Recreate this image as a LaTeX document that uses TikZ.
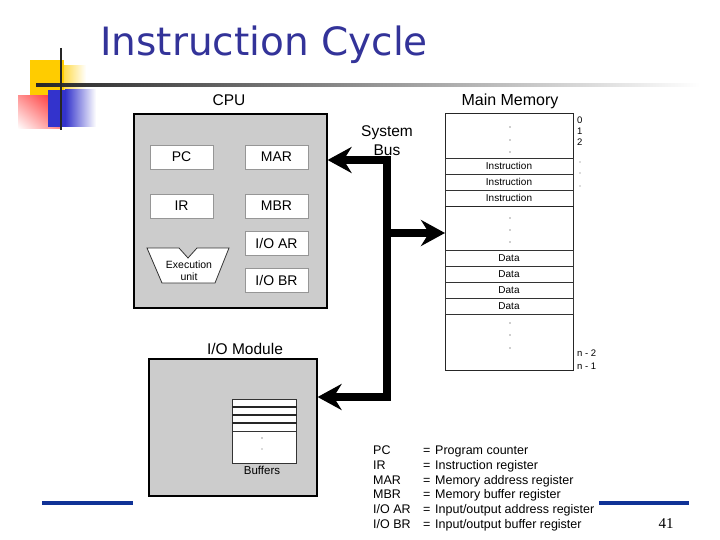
\documentclass[tikz,border=0pt]{standalone}
\usepackage{fontspec}
\setmainfont{Liberation Sans}
\newfontfamily\titlefont{DejaVu Sans}
\newfontfamily\numfont{Liberation Serif}
\usetikzlibrary{arrows.meta, shadings}
\definecolor{titleblue}{RGB}{51,51,153}
\definecolor{lineblue}{RGB}{16,50,150}
\definecolor{boxgray}{RGB}{204,204,204}
\definecolor{regborder}{RGB}{150,150,150}
\definecolor{logoyellow}{RGB}{255,204,0}
\definecolor{logoblue}{RGB}{51,51,204}
\definecolor{logored}{RGB}{255,40,40}
\tikzset{
  unitbox/.style={draw=black, line width=1.6pt, fill=boxgray, inner sep=0pt},
  regbox/.style={draw=regborder, fill=white, line width=0.8pt, minimum width=63pt, minimum height=24pt, inner sep=0pt, font=\fontsize{14}{14}\selectfont},
  memcell/.style={draw=black!80, fill=white, line width=0.8pt, minimum width=128pt, minimum height=16pt, inner sep=0pt, font=\fontsize{10}{10}\selectfont},
  addrlbl/.style={anchor=base west, inner sep=0pt, font=\fontsize{9.5}{9.5}\selectfont},
  heading/.style={anchor=base, inner sep=0pt, font=\fontsize{15.5}{15.5}\selectfont},
  smalllbl/.style={anchor=base, inner sep=0pt, font=\fontsize{10.5}{10.5}\selectfont},
  legend/.style={anchor=base west, inner sep=0pt, font=\fontsize{12.5}{12.5}\selectfont},
  bus/.style={line width=7.5pt, line join=miter},
  bustip/.tip={Stealth[length=24pt, width=26pt, inset=8pt]},
}
\begin{document}
\begin{tikzpicture}[x=1pt, y=-1pt]
    \useasboundingbox (0,0) rectangle (720,540);

    % Logo and title rule
    \fill[logoyellow] (30,60) rectangle (64,97);
    \shade[left color=logoyellow!70, right color=white] (64,66) rectangle (86,97);
    \shade[upper right=logored, upper left=logored!50, lower left=white, lower right=logored!55] (18,96) rectangle (60,129);
    \fill[logoblue] (48,90) rectangle (65,127);
    \shade[left color=logoblue, right color=white] (65,90) rectangle (96,127);
    \shade[left color=black!85, right color=white] (36,84) rectangle (700,87);
    \draw[line width=2.2pt, black!85] (61,48) -- (61,130);

    % Title
    \node[anchor=base west, inner sep=0pt, text=titleblue, font=\titlefont\fontsize{39}{39}\selectfont] (title) at (100,56) {Instruction Cycle};

    % CPU
    \node[unitbox, minimum width=193pt, minimum height=194pt, anchor=north west] (cpu) at (133,113) {};
    \node[heading] (cpulbl) at (229,106) {CPU};
    \node[regbox] (pc) at (181.5,157) {PC};
    \node[regbox] (mar) at (276.5,157) {MAR};
    \node[regbox] (ir) at (181.5,206) {IR};
    \node[regbox] (mbr) at (276.5,206) {MBR};
    \node[regbox] (ioar) at (276.5,243) {I/O AR};
    \node[regbox] (iobr) at (276.5,280.5) {I/O BR};
    \draw[draw=black!80, fill=white, line width=0.8pt] (147,248) -- (179,248) -- (188,258) -- (197,248) -- (229,248) -- (215,283) -- (162,283) -- cycle;
    \node[smalllbl] (exec1) at (189,268) {Execution};
    \node[smalllbl] (exec2) at (189,280) {unit};

    % Main memory
    \node[heading, font=\fontsize{16}{16}\selectfont] (memlbl) at (510,106) {Main Memory};
    \node[draw=black!85, fill=white, line width=1pt, minimum width=128pt, minimum height=257pt, inner sep=0pt, anchor=north west] (mem) at (445,113) {};
    \foreach \y/\t in {166/Instruction, 182/Instruction, 198/Instruction, 258/Data, 274/Data, 290/Data, 306/Data} {
        \node[memcell] (cell\y) at (509,\y) {\t};
    }
    \draw[line width=1.6pt, black!85] (mem.west |- cell198.south) -- (mem.east |- cell198.south);
    \foreach \y in {127, 140, 152, 218, 230, 242, 323, 335, 348} {
        \fill[black!80] (510,\y) circle (0.7);
    }
    \foreach \y in {162, 173, 186} {
        \fill[black!60] (580,\y) circle (0.6);
    }
    \foreach \y/\a in {124/0, 135/1, 146/2, 356/n - 2, 369/n - 1} {
        \node[addrlbl] (addr\y) at (577,\y) {\a};
    }

    % System bus
    \node[heading] (buslbl1) at (387,137) {System};
    \node[heading] (buslbl2) at (387,156) {Bus};
    \coordinate (bustop) at (387,160);
    \coordinate (busmid) at (387,233);
    \coordinate (busbot) at (387,397);

    % I/O module
    \node[unitbox, minimum width=168pt, minimum height=137pt, anchor=north west] (io) at (148,358) {};
    \node[heading] (iolbl) at (245,354) {I/O Module};
    \node[draw=black!80, fill=white, line width=0.8pt, minimum width=64pt, minimum height=64pt, inner sep=0pt, anchor=north west] (buf) at (232,399) {};
    \foreach \y in {407, 415, 423} {
        \draw[line width=1.8pt, black!85] (buf.west |- 0,\y) -- (buf.east |- 0,\y);
    }
    \draw[line width=0.8pt, black!80] (buf.west |- 0,431) -- (buf.east |- 0,431);
    \fill[black!80] (262,438) circle (0.6);
    \fill[black!60] (262,449) circle (0.6);
    \node[smalllbl, font=\fontsize{11.5}{11.5}\selectfont] (buflbl) at (262,474) {Buffers};

    % Bus connectors
    \draw[bus, bustip-bustip] (cpu.east |- bustop) -- (bustop) -- (busbot) -- (io.east |- busbot);
    \draw[bus, -bustip] (busmid) -- (mem.west |- busmid);

    % Legend
    \foreach \i/\a/\d in {0/PC/Program counter, 1/IR/Instruction register, 2/MAR/Memory address register, 3/MBR/Memory buffer register, 4/I\slash O AR/Input\slash output address register, 5/I\slash O BR/Input\slash output buffer register} {
        \node[legend] (abbr\i) at (373,{454.5+\i*14.8}) {\a};
        \node[legend] (eq\i) at (423,{454.5+\i*14.8}) {=};
        \node[legend] (desc\i) at (435,{454.5+\i*14.8}) {\d};
    }

    % Footer
    \draw[lineblue, line width=4pt] (42,503) -- (133,503);
    \draw[lineblue, line width=4pt] (599,503) -- (689,503);
    \node[anchor=base, inner sep=0pt, font=\numfont\fontsize{15}{15}\selectfont] (pagenum) at (666,528) {41};
\end{tikzpicture}
\end{document}
